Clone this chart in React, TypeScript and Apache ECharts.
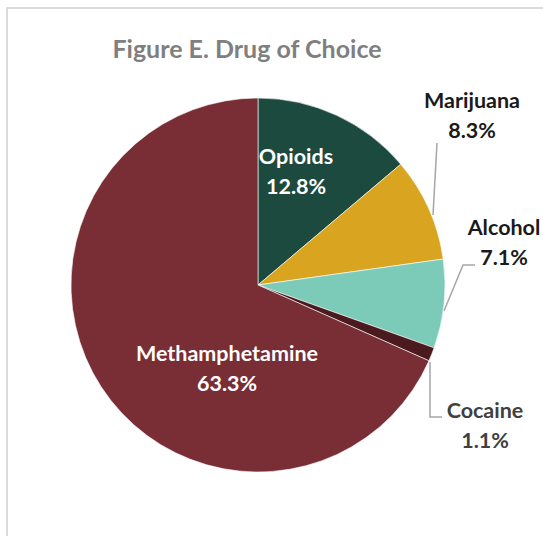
import React, { useEffect, useRef } from "react";
import * as echarts from "echarts";

const categories = ["Opioids", "Marijuana", "Alcohol", "Cocaine", "Methamphetamine"];
const values = [12.8, 8.3, 7.1, 1.1, 63.3];
const colors = ["#1d4a3e", "#d9a521", "#7ccbb9", "#4a1a1f", "#792e35"];
const titleText = "Figure E. Drug of Choice";

// label anchor positions (px) and leader line points per slice
const labelPos: Record<number, { x: number; y: number; line?: number[][] }> = {
  0: { x: 296, y: 171 },
  1: { x: 472, y: 115, line: [[433, 215], [437, 143], [437, 143]] },
  2: { x: 504, y: 242, line: [[444, 311], [463, 265], [475, 265]] },
  3: { x: 485, y: 425, line: [[430, 362], [430, 417], [442, 417]] },
  4: { x: 227, y: 368 },
};

const FONT = "Lato, 'Open Sans', sans-serif";

export default function App() {
  const ref = useRef<HTMLDivElement>(null);
  useEffect(() => {
    document.body.style.margin = "0";
    const chart = echarts.init(ref.current!, null, { renderer: "svg" });
    const data = categories.map((name, i) => {
      const inside = i === 0 || i === 4;
      return {
        name,
        value: values[i],
        itemStyle: { color: colors[i] },
        label: inside
          ? { position: "inside", color: "#ffffff" }
          : { position: "outside", color: i === 3 ? "#404040" : "#1a1a1a" },
        labelLine: { show: !inside },
      };
    });
    chart.setOption({
      animation: false,
      backgroundColor: "#ffffff",
      graphic: [
        {
          type: "rect",
          shape: { x: 7, y: 8, width: 600, height: 600 },
          style: { fill: "none", stroke: "#d0d0d0", lineWidth: 1.5 },
          silent: true,
        },
        {
          type: "text",
          x: 247,
          y: 48,
          style: {
            text: titleText,
            fill: "#7f7f7f",
            font: `bold 25px ${FONT}`,
            align: "center",
            verticalAlign: "middle",
          },
        },
      ],
      series: [
        {
          type: "pie",
          center: [258, 285],
          radius: 187,
          startAngle: 90,
          clockwise: true,
          itemStyle: { borderColor: "#ffffff", borderWidth: 0.6 },
          label: {
            formatter: "{b}\n{c}%",
            fontFamily: FONT,
            fontWeight: "bold",
            fontSize: 21.5,
            lineHeight: 30,
            align: "center",
            overflow: "none",
            width: 300,
          },
          labelLine: {
            lineStyle: { color: "#a6a6a6", width: 1.5 },
          },
          labelLayout: (params: any) => {
            const p = labelPos[params.dataIndex];
            const out: any = { x: p.x, y: p.y, align: "center", verticalAlign: "middle" };
            if (p.line) out.labelLinePoints = p.line;
            return out;
          },
          data,
        },
      ],
    });
    return () => chart.dispose();
  }, []);
  return <div ref={ref} style={{ width: 543, height: 536 }} />;
}
